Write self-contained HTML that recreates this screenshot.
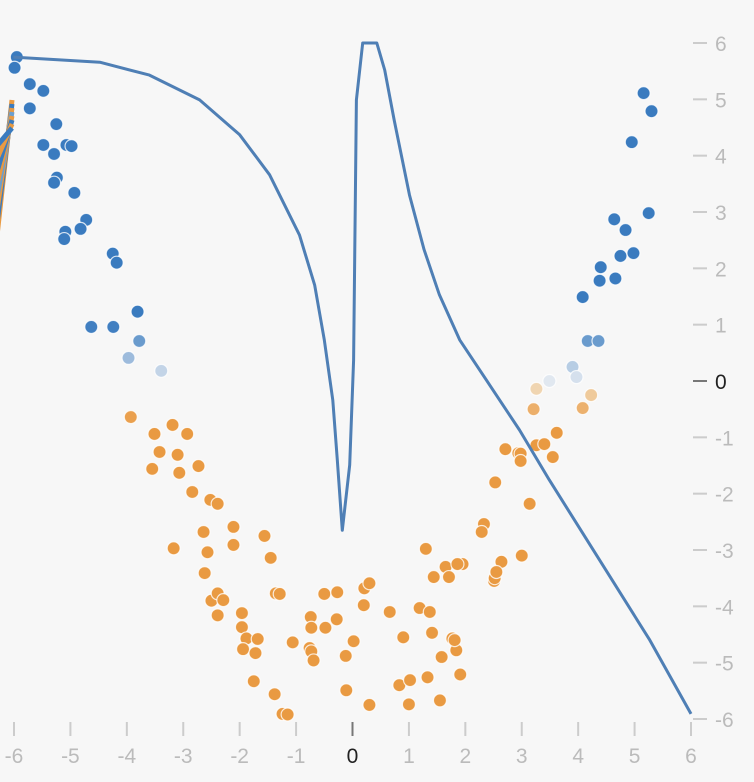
<!DOCTYPE html>
<html><head><meta charset="utf-8"><style>
html,body{margin:0;padding:0;background:#f7f7f7;}
svg{display:block;font-family:"Liberation Sans",sans-serif;}
</style></head><body>
<svg id="chart" width="754" height="782" viewBox="0 0 754 782"></svg>
<script>
const xTicks=[-6,-5,-4,-3,-2,-1,0,1,2,3,4,5,6];
const yTicks=[-6,-5,-4,-3,-2,-1,0,1,2,3,4,5,6];
const pointsX=[-5.95,-5.99,-5.72,-5.48,-5.72,-5.25,-5.48,-5.29,-5.07,-4.98,-5.24,-5.29,-4.93,-5.09,-5.11,-4.72,-4.82,-4.25,-4.18,-3.81,-4.24,-4.63,-3.78,-3.97,-3.39,
 5.16,5.30,4.95,5.25,4.64,4.84,4.75,4.98,4.40,4.66,4.38,4.08,4.17,4.36,3.90,3.26,3.49,3.97,4.23,3.21,4.08,
 -3.93,-3.51,-3.19,-2.93,-3.42,-3.10,-3.55,-3.07,-2.73,-2.84,-2.52,-2.39,-3.17,-2.64,-2.57,-2.11,-2.11,-1.56,-1.45,-2.62,-1.36,-1.29,-2.50,-2.39,-2.29,-2.39,-1.96,-1.96,-1.88,-1.68,-1.94,-1.72,-1.06,-0.74,-0.73,-0.76,-0.73,-0.69,-0.48,-0.28,-0.50,-0.27,0.21,0.30,0.20,0.02,-0.12,-0.11,0.30,-1.75,-1.38,-1.24,-1.15,0.66,0.90,0.83,1.00,1.02,1.19,1.37,1.41,1.33,1.58,1.55,1.77,1.84,1.81,1.91,1.44,1.30,1.65,1.95,1.71,1.86,2.33,2.29,2.51,2.52,2.53,2.71,2.94,2.64,2.55,2.98,2.98,3.00,3.14,3.26,3.40,3.55,3.62];
const pointsY=[5.75,5.56,5.27,5.15,4.84,4.56,4.19,4.03,4.19,4.17,3.61,3.52,3.34,2.65,2.52,2.86,2.70,2.26,2.10,1.23,0.96,0.96,0.71,0.41,0.18,
 5.11,4.79,4.24,2.98,2.87,2.68,2.22,2.27,2.02,1.82,1.78,1.49,0.71,0.71,0.25,-0.14,0.00,0.07,-0.25,-0.50,-0.48,
 -0.64,-0.94,-0.78,-0.94,-1.26,-1.31,-1.56,-1.63,-1.51,-1.97,-2.11,-2.18,-2.97,-2.68,-3.04,-2.59,-2.91,-2.75,-3.14,-3.41,-3.77,-3.78,-3.90,-3.77,-3.89,-4.16,-4.12,-4.37,-4.57,-4.58,-4.76,-4.83,-4.64,-4.19,-4.38,-4.74,-4.80,-4.96,-4.38,-4.23,-3.78,-3.75,-3.68,-3.59,-3.98,-4.62,-4.88,-5.49,-5.75,-5.33,-5.56,-5.91,-5.92,-4.10,-4.55,-5.40,-5.74,-5.31,-4.03,-4.10,-4.47,-5.26,-4.90,-5.67,-4.57,-4.78,-4.60,-5.21,-3.48,-2.98,-3.30,-3.25,-3.48,-3.25,-2.54,-2.68,-3.55,-3.50,-1.80,-1.21,-1.28,-3.21,-3.39,-1.29,-1.42,-3.10,-2.18,-1.14,-1.12,-1.35,-0.92];
const curveX=[-6.01,-4.48,-3.60,-2.71,-2.00,-1.47,-0.94,-0.67,-0.50,-0.35,-0.27,-0.18,-0.05,0.02,0.07,0.18,0.43,0.57,0.74,1.01,1.27,1.54,1.90,2.43,2.96,3.49,4.38,5.27,6.0];
const curveY=[5.75,5.66,5.43,4.99,4.37,3.66,2.59,1.70,0.73,-0.34,-1.40,-2.65,-1.49,0.37,4.99,6.0,6.0,5.52,4.63,3.30,2.33,1.53,0.73,-0.07,-0.87,-1.76,-3.18,-4.60,-5.91];
const x0=14,x1=691,yTop=43,yBot=719;
const sx=v=>x0+(v+6)/12*(x1-x0);
const sy=v=>yBot-(v+6)/12*(yBot-yTop);
const svg=document.getElementById('chart');
const NS='http://www.w3.org/2000/svg';
function mk(t,a){const e=document.createElementNS(NS,t);for(const k in a)e.setAttribute(k,a[k]);svg.appendChild(e);return e;}
const fanC=['#e99a42','#3a7bbf','#e99a42','#6b9fd0','#e99a42','#3a7bbf','#e99a42','#3a7bbf'];
for(let i=0;i<fanC.length;i++){
 const l=mk('line',{x1:-4,y1:245-i*14,x2:12,y2:100+i*4,stroke:fanC[i],'stroke-width':5});
 
 
}
xTicks.forEach(v=>{
 const z=v===0;
 const t=mk('line',{x1:sx(v),x2:sx(v),y1:722,y2:736,stroke:z?'#777':'#ccc','stroke-width':2});
 
 
 const tx=mk('text',{x:sx(v),y:763,'text-anchor':'middle','font-size':21,fill:z?'#222':'#bbb'});
 tx.textContent=String(v);
 
 
});
yTicks.forEach(v=>{
 const z=v===0;
 const t=mk('line',{x1:693,x2:707,y1:sy(v),y2:sy(v),stroke:z?'#777':'#ccc','stroke-width':2});
 
 
 const tx=mk('text',{x:715,y:sy(v)+8,'font-size':21,fill:z?'#222':'#bbb'});
 tx.textContent=String(v);
 
 
});
function col(y){
 const b=[58,123,191],o=[233,154,66];
 let w,c1,t;
 if(y>=0){t=Math.min(1,y/1.0);c1=b;w=[225,232,240];}else{t=Math.min(1,-y/0.7);c1=o;w=[242,228,205];}
 const c=w.map((v,i)=>Math.round(v+(c1[i]-v)*t));
 return 'rgb('+c.join(',')+')';
}
pointsX.forEach((x,i)=>{
 const y=pointsY[i];
 const c=mk('circle',{cx:sx(x),cy:sy(y),r:6.5,fill:col(y),stroke:'#fff','stroke-width':1.2,'stroke-opacity':0.8});
 
 
});
const d=curveX.map((x,i)=>(i?'L':'M')+sx(x).toFixed(1)+','+sy(curveY[i]).toFixed(1)).join(' ');
const p=mk('path',{d:d,fill:'none',stroke:'#4f7fb5','stroke-width':3,'stroke-linejoin':'round'});


</script>
</body></html>
